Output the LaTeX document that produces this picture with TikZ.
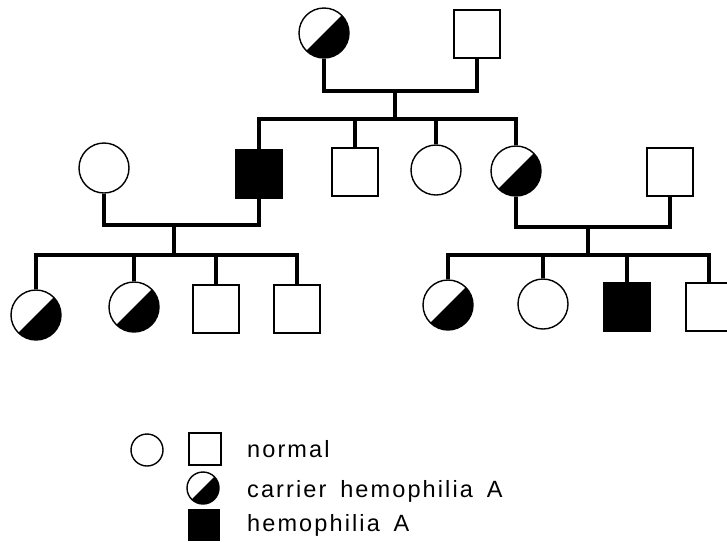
\documentclass[tikz,border=0pt]{standalone}
\usepackage{fontspec}
\setmainfont{Liberation Sans}[LetterSpace=9, WordSpace=1.6]
\begin{document}
\begin{tikzpicture}[x=1pt,y=-1pt,
  fem/.style={circle, draw, line width=1.4pt, minimum size=50pt, inner sep=0pt},
  mal/.style={rectangle, draw, line width=1.4pt, minimum width=46pt, minimum height=48pt, inner sep=0pt},
  carrier/.style={fem, path picture={\fill (path picture bounding box.north east) -- (path picture bounding box.south west) -- (path picture bounding box.south east) -- cycle;}},
  affected/.style={mal, fill=black},
  link/.style={line width=4pt, line join=miter},
  legtext/.style={anchor=base west, inner sep=0pt, font=\fontsize{23.5}{26}\selectfont}
]
\useasboundingbox (0,0) rectangle (727,542);
% generation 1
\node[carrier] (m1) at (324,33) {};
\node[mal] (f1) at (477,34) {};
\coordinate (cp1) at (395,91);
\coordinate (sb1) at (395,119);
% generation 2
\node[affected] (s1) at (259,174) {};
\node[mal] (s2) at (355,172) {};
\node[fem] (s3) at (436,170) {};
\node[carrier] (s4) at (516,171) {};
\node[fem] (w1) at (104,168) {};
\node[mal] (h1) at (670,172) {};
\coordinate (cp2) at (174,225);
\coordinate (sb2) at (174,255);
\coordinate (cp3) at (588,227);
\coordinate (sb3) at (588,255);
% generation 3 left
\node[carrier] (a1) at (36,315) {};
\node[carrier] (a2) at (134,307) {};
\node[mal] (a3) at (216,309) {};
\node[mal] (a4) at (297,309) {};
% generation 3 right
\node[carrier] (b1) at (448,305) {};
\node[fem] (b2) at (543,304) {};
\node[affected] (b3) at (627,307) {};
\node[mal] (b4) at (709,307) {};
% connectors
\draw[link] (m1.south) |- (cp1) -| (f1.south);
\draw[link] (cp1) -- (sb1);
\foreach \c in {s1,s2,s3,s4} \draw[link] (sb1) -| (\c.north);
\draw[link] (w1.south) |- (cp2) -| (s1.south);
\draw[link] (cp2) -- (sb2);
\foreach \c in {a1,a2,a3,a4} \draw[link] (sb2) -| (\c.north);
\draw[link] (s4.south) |- (cp3) -| (h1.south);
\draw[link] (cp3) -- (sb3);
\foreach \c in {b1,b2,b3,b4} \draw[link] (sb3) -| (\c.north);
% legend
\node[fem, minimum size=32pt] (l1) at (147,450) {};
\node[mal, minimum width=32pt, minimum height=32pt] (l2) at (205,449) {};
\node[carrier, minimum size=32pt] (l3) at (203,488) {};
\node[affected, minimum width=31pt, minimum height=31pt] (l4) at (204,525) {};
\node[legtext] (t1) at (247,457) {normal};
\node[legtext] (t2) at (247,497) {carrier hemophilia A};
\node[legtext] (t3) at (247,531) {hemophilia A};
\end{tikzpicture}
\end{document}
